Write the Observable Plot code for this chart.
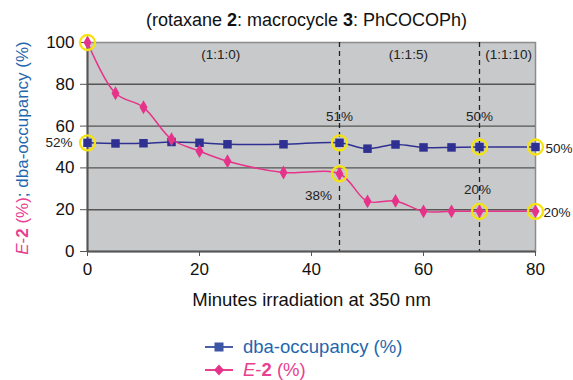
<!DOCTYPE html>
<html>
<head>
<meta charset="utf-8">
<script src="https://cdn.jsdelivr.net/npm/d3@7"></script>
<script src="https://cdn.jsdelivr.net/npm/@observablehq/plot@0.6"></script>
<style>
  body { margin: 0; background: #fff; font-family: "Liberation Sans", Arial, sans-serif; }
  #wrap { position: relative; width: 573px; height: 380px; overflow: hidden; }
  #title { position: absolute; left: 0; top: 0; width: 573px; height: 30px; box-sizing: border-box; padding-top: 10px; padding-left: 40px; line-height: 20px; font-size: 18px; text-align: center; color: #111; white-space: nowrap; }
  #chart { position: absolute; left: 0; top: 30px; }
  .leg { position: absolute; left: 203px; height: 22px; display: flex; align-items: center; font-size: 18.5px; white-space: nowrap; }
  .leg svg { margin-right: 8px; }
</style>
</head>
<body>
<div id="wrap">
  <div id="title">(rotaxane <b>2</b>: macrocycle <b>3</b>: PhCOCOPh)</div>
  <div id="chart"></div>
  <div class="leg" style="top:336px;color:#1f66ad">
    <svg width="32" height="14"><line x1="2" x2="30" y1="7" y2="7" stroke="#4a5fa8" stroke-width="2"/><rect x="11.5" y="2.5" width="9" height="9" fill="#3c55a5"/></svg>
    <span>dba-occupancy (%)</span>
  </div>
  <div class="leg" style="top:359px;color:#e8408f">
    <svg width="32" height="14"><line x1="2" x2="30" y1="7" y2="7" stroke="#e8408f" stroke-width="2"/><path d="M16,1.5 L21,7 L16,12.5 L11,7 Z" fill="#e6338a"/></svg>
    <span><i>E</i>-<b>2</b> (%)</span>
  </div>
</div>
<script>
// ---- data ----
const minutes = [0, 5, 10, 15, 20, 25, 35, 45, 50, 55, 60, 65, 70, 80];
const dbaOccupancy = [52, 51.7, 51.8, 52.4, 52, 51.3, 51.3, 52, 49.2, 51.2, 49.8, 49.8, 50, 50];
const e2 = [100, 75.7, 69, 53.7, 48, 43.2, 37.8, 37.2, 24, 24.2, 19.2, 19.2, 19.2, 19.2];
const xTicks = [0, 20, 40, 60, 80];
const yTicks = [0, 20, 40, 60, 80, 100];
const ratioDividers = [45, 70];
const ratioLabels = ["(1:1:0)", "(1:1:5)", "(1:1:10)"];
const ratioLabelMinutes = [23.8, 57.3, 75.2];
const highlightMinutes = [0, 45, 70, 80];
const highlightDba = [52, 52, 50, 50];
const highlightE2 = [100, 37.2, 19.2, 19.2];

const dbaData = minutes.map((m, i) => ({x: m, y: dbaOccupancy[i]}));
const e2Data = minutes.map((m, i) => ({x: m, y: e2[i]}));
const hlData = highlightMinutes.map((m, i) => ({x: m, y: highlightDba[i]}))
  .concat(highlightMinutes.map((m, i) => ({x: m, y: highlightE2[i]})));
const ratioData = ratioLabels.map((t, i) => ({x: ratioLabelMinutes[i], y: 94, t}));

const blue = "#2e3192", pink = "#e6338a", yellow = "#f5e30f";
const annot = 13.5;

const plot = Plot.plot({
  width: 573,
  height: 280,
  marginTop: 12,
  marginLeft: 87,
  marginRight: 38,
  marginBottom: 59,
  style: {fontFamily: "Liberation Sans, Arial, sans-serif", fontSize: "17px", color: "#111"},
  x: {domain: [0, 80]},
  y: {domain: [0, 100]},
  marks: [
    Plot.frame({fill: "#c8c9cb", stroke: "#8c8c8c", strokeWidth: 1.5}),
    Plot.ruleY([20, 40, 60, 80], {stroke: "#555", strokeWidth: 1.4}),
    Plot.ruleX(ratioDividers, {stroke: "#222", strokeWidth: 1.3, strokeDasharray: "5,4"}),
    Plot.ruleX([0], {stroke: "#555", strokeWidth: 2}),
    Plot.ruleY([0], {stroke: "#555", strokeWidth: 2}),
    Plot.axisY({ticks: yTicks, tickSize: 7, tickPadding: 6, label: null, stroke: "#555", fontSize: 17}),
    Plot.axisX({ticks: xTicks, tickSize: 5, tickPadding: 6, label: null, stroke: "#555", fontSize: 17}),
    Plot.axisX({ticks: [], label: "Minutes irradiation at 350 nm", labelAnchor: "center", labelArrow: "none", labelOffset: 54, fontSize: 18.5}),
    Plot.text(ratioData, {x: "x", y: "y", text: "t", fontSize: annot, fill: "#222"}),
    Plot.line(dbaData, {x: "x", y: "y", stroke: blue, strokeWidth: 1.5, curve: "catmull-rom"}),
    Plot.dot(dbaData, {x: "x", y: "y", symbol: "square", r: 4.8, fill: blue}),
    Plot.line(e2Data, {x: "x", y: "y", stroke: pink, strokeWidth: 1.5, curve: "catmull-rom"}),
    Plot.dot(e2Data, {x: "x", y: "y", symbol: "diamond", r: 4.2, fill: pink}),
    Plot.dot(hlData, {x: "x", y: "y", r: 7.5, stroke: yellow, strokeWidth: 2.3, fill: "none"}),
    // value annotations
    Plot.text([{x: 0, y: 52, t: "52%"}], {x: "x", y: "y", text: "t", dx: -15, textAnchor: "end", fontSize: annot, fill: "#222"}),
    Plot.text([{x: 45, y: 52, t: "51%"}], {x: "x", y: "y", text: "t", dy: -26, fontSize: annot, fill: "#222"}),
    Plot.text([{x: 70, y: 50, t: "50%"}], {x: "x", y: "y", text: "t", dy: -30, fontSize: annot, fill: "#222"}),
    Plot.text([{x: 80, y: 50, t: "50%"}], {x: "x", y: "y", text: "t", dx: 10, dy: 2, textAnchor: "start", fontSize: annot, fill: "#222"}),
    Plot.text([{x: 45, y: 37.2, t: "38%"}], {x: "x", y: "y", text: "t", dx: -21, dy: 22, fontSize: annot, fill: "#222"}),
    Plot.text([{x: 70, y: 19.2, t: "20%"}], {x: "x", y: "y", text: "t", dx: -2, dy: -22, fontSize: annot, fill: "#222"}),
    Plot.text([{x: 80, y: 19.2, t: "20%"}], {x: "x", y: "y", text: "t", dx: 8, dy: 1, textAnchor: "start", fontSize: annot, fill: "#222"})
  ]
});
document.getElementById("chart").appendChild(plot);

// multi-coloured y-axis label
const lbl = d3.select(plot).append("text")
  .attr("transform", "translate(28,118) rotate(-90)")
  .attr("text-anchor", "middle")
  .attr("font-size", 17)
  .attr("font-family", "Liberation Sans, Arial, sans-serif");
lbl.append("tspan").attr("fill", "#e8408f").attr("font-style", "italic").text("E");
lbl.append("tspan").attr("fill", "#e8408f").text("-");
lbl.append("tspan").attr("fill", "#e8408f").attr("font-weight", "bold").text("2");
lbl.append("tspan").attr("fill", "#e8408f").text(" (%)");
lbl.append("tspan").attr("fill", "#1f66ad").text("; dba-occupancy (%)");
</script>
</body>
</html>
